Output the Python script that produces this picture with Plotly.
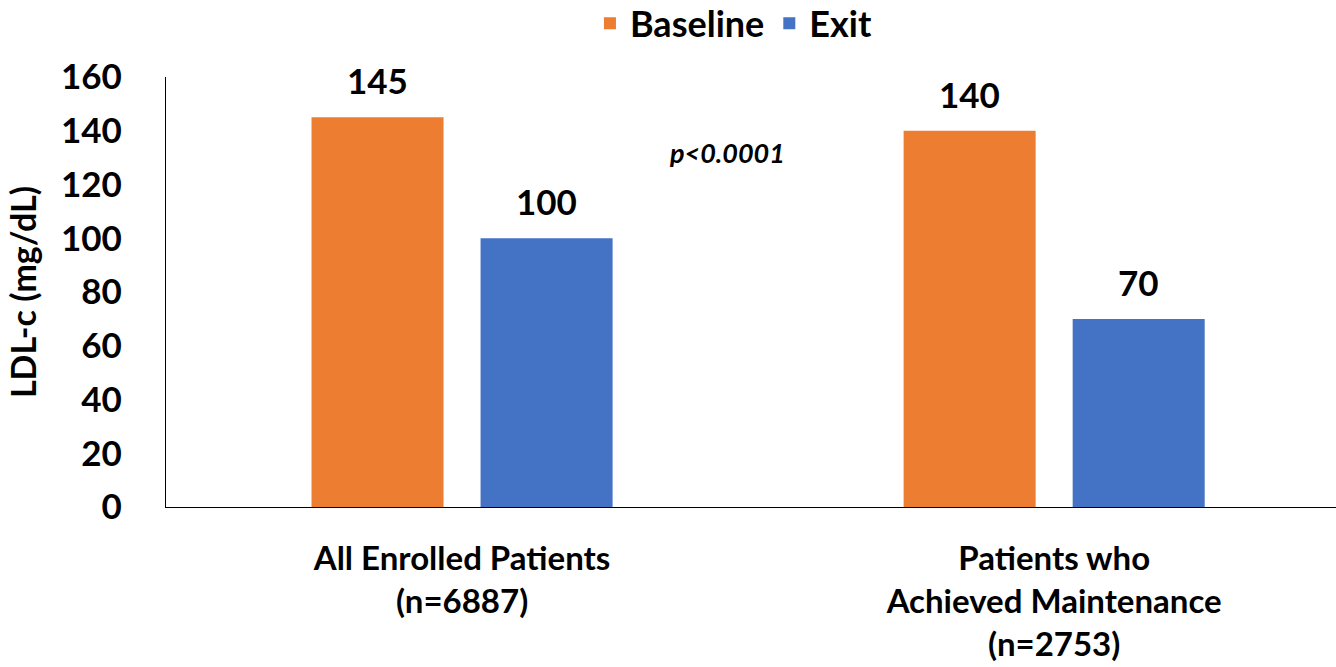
import plotly.graph_objects as go

# LDL-c values per patient group
categories = ["All Enrolled Patients<br>(n=6887)",
              "Patients who<br>Achieved Maintenance<br>(n=2753)"]
baseline = [145, 140]
exit_vals = [100, 70]
y_ticks = [0, 20, 40, 60, 80, 100, 120, 140, 160]
p_text = "p<0.0001"

ORANGE = "#ED7D31"
BLUE = "#4472C4"
FONT = "Lato"

fig = go.Figure()
fig.add_trace(go.Bar(name="<b>Baseline</b>", x=[0, 1], y=baseline,
                     marker=dict(color=ORANGE, line=dict(width=0))))
fig.add_trace(go.Bar(name="<b>Exit</b>", x=[0, 1], y=exit_vals,
                     marker=dict(color=BLUE, line=dict(width=0))))

# value labels above each bar
offset = 0.1427
for i, v in enumerate(baseline):
    fig.add_annotation(x=i - offset, y=v, text=f"<b>{v}</b>", showarrow=False,
                       yanchor="bottom", yshift=14,
                       font=dict(family=FONT, size=35, color="black"))
for i, v in enumerate(exit_vals):
    fig.add_annotation(x=i + offset, y=v, text=f"<b>{v}</b>", showarrow=False,
                       yanchor="bottom", yshift=14,
                       font=dict(family=FONT, size=35, color="black"))

fig.add_annotation(x=0.4476, y=132, text=f"<b><i>{p_text}</i></b>", showarrow=False,
                   font=dict(family=FONT, size=27, color="black"))

fig.update_layout(
    width=1336, height=667,
    margin=dict(l=166, r=0, t=77, b=160, autoexpand=False),
    paper_bgcolor="white", plot_bgcolor="white",
    barmode="group", bargap=0.429, bargroupgap=0.219,
    font=dict(family=FONT, color="black"),
    legend=dict(orientation="h", x=0.485, xanchor="center", y=1.055, yanchor="bottom",
                font=dict(family=FONT, size=36, color="black"),
                itemwidth=30, tracegroupgap=0),
    xaxis=dict(
        type="linear", range=[-0.5, 1.476],
        tickmode="array", tickvals=[0, 1],
        ticktext=[f"<b>{c}</b>" for c in categories],
        tickfont=dict(family=FONT, size=33, color="black"),
        showline=True, linecolor="black", linewidth=1.3,
        showgrid=False, zeroline=False, ticks="", ticklabelstandoff=22,
    ),
    yaxis=dict(
        range=[0, 160], tickmode="array", tickvals=y_ticks,
        ticktext=[f"<b>{t}</b>" for t in y_ticks],
        tickfont=dict(family=FONT, size=35, color="black"),
        showline=True, linecolor="black", linewidth=1.3,
        showgrid=False, zeroline=False, ticks="", ticklabelstandoff=36,
        title=dict(text="<b>LDL-c (mg/dL)</b>", standoff=14,
                   font=dict(family=FONT, size=34, color="black")),
    ),
)

fig.write_html("out.html")
